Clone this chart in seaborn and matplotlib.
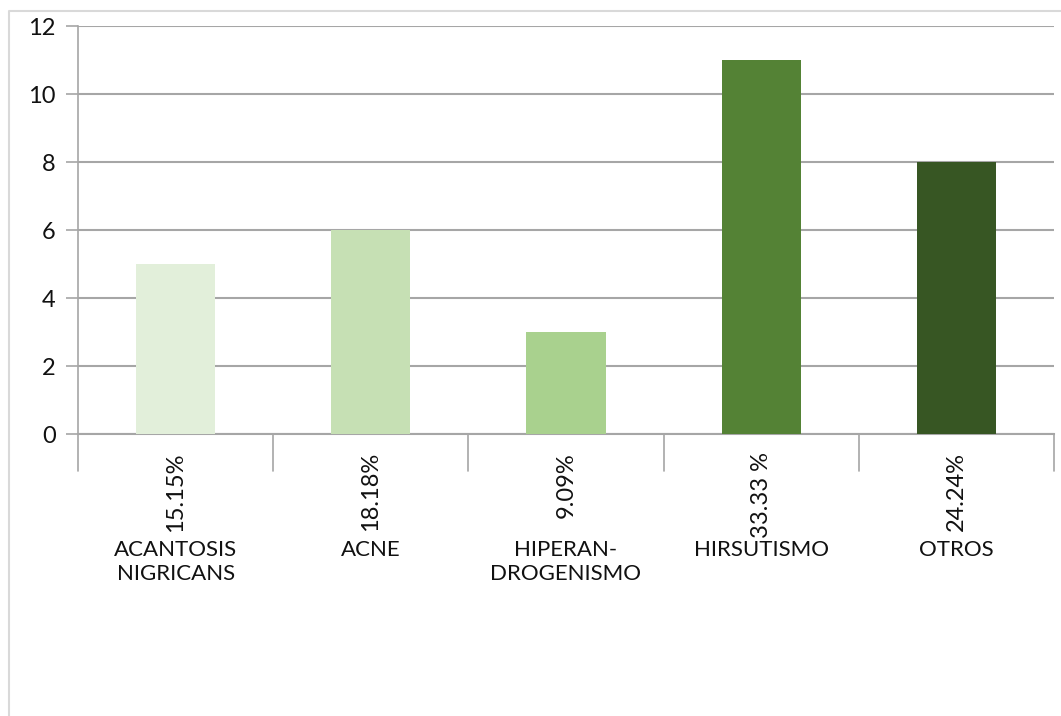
import matplotlib
matplotlib.use("Agg")
import matplotlib.pyplot as plt
import matplotlib.transforms as mtransforms
from matplotlib.lines import Line2D
import seaborn as sns
import pandas as pd

categories = ["ACANTOSIS\nNIGRICANS", "ACNE", "HIPERAN-\nDROGENISMO", "HIRSUTISMO", "OTROS"]
counts = [5, 6, 3, 11, 8]
percent_labels = ["15.15%", "18.18%", "9.09%", "33.33 %", "24.24%"]
bar_colors = ["#E2EFDA", "#C6E0B4", "#A9D18E", "#548235", "#375623"]
y_ticks = [0, 2, 4, 6, 8, 10, 12]

sns.set_theme(style="white")
plt.rcParams["font.family"] = ["Lato", "DejaVu Sans"]

W, H = 1061, 716
fig = plt.figure(figsize=(W / 100, H / 100), dpi=100)
fig.patch.set_facecolor("white")

# plot area in pixel terms
left, right, top, bottom = 78, 1054, 26, 434
ax = fig.add_axes([left / W, 1 - bottom / H, (right - left) / W, (bottom - top) / H])

df = pd.DataFrame({"cat": categories, "n": counts})
sns.barplot(data=df, x="cat", y="n", hue="cat", palette=bar_colors,
            legend=False, width=0.405, saturation=1, linewidth=0,
            ax=ax, zorder=3)

grid_col = "#A6A6A6"
text_col = "#111111"
ax.set_xlim(-0.5, len(categories) - 0.5)
ax.set_ylim(0, 12)
ax.set_yticks(y_ticks)
ax.set_yticklabels([str(t) for t in y_ticks], fontsize=17, color=text_col)
ax.yaxis.grid(True, color=grid_col, linewidth=1.5, zorder=0)
ax.set_axisbelow(True)
ax.tick_params(axis="y", which="major", length=9, width=1.2, color=grid_col,
               pad=7, left=True)
ax.set_xticks([])
ax.set_xlabel("")
ax.set_ylabel("")
for side in ["top", "right"]:
    ax.spines[side].set_visible(False)
ax.spines["left"].set_color(grid_col)
ax.spines["left"].set_linewidth(1.2)
ax.spines["bottom"].set_color(grid_col)
ax.spines["bottom"].set_linewidth(1.5)

# category axis: divider ticks and two-level labels
trans = mtransforms.blended_transform_factory(ax.transData, ax.transAxes)
plot_h = bottom - top
div_depth = -(471 - bottom) / plot_h
for i in range(len(categories) + 1):
    ax.add_line(Line2D([i - 0.5, i - 0.5], [0, div_depth], transform=trans,
                       color=grid_col, linewidth=1.2, clip_on=False))

pct_y = -(452 - bottom) / plot_h
name_y = -(540 - bottom) / plot_h
for i, (name, pct) in enumerate(zip(categories, percent_labels)):
    ax.text(i, pct_y, pct, transform=trans, rotation=90, ha="center", va="top",
            fontsize=17, color=text_col)
    ax.text(i, name_y, name, transform=trans, ha="center", va="top",
            fontsize=16, color=text_col, linespacing=1.28)

# chart frame
frame_col = "#D9D9D9"
fig.add_artist(Line2D([9 / W, 9 / W, 1.0], [0.0, 1 - 11 / H, 1 - 11 / H],
                      transform=fig.transFigure, color=frame_col, linewidth=1.5))

fig.savefig("out.png", dpi=100)
